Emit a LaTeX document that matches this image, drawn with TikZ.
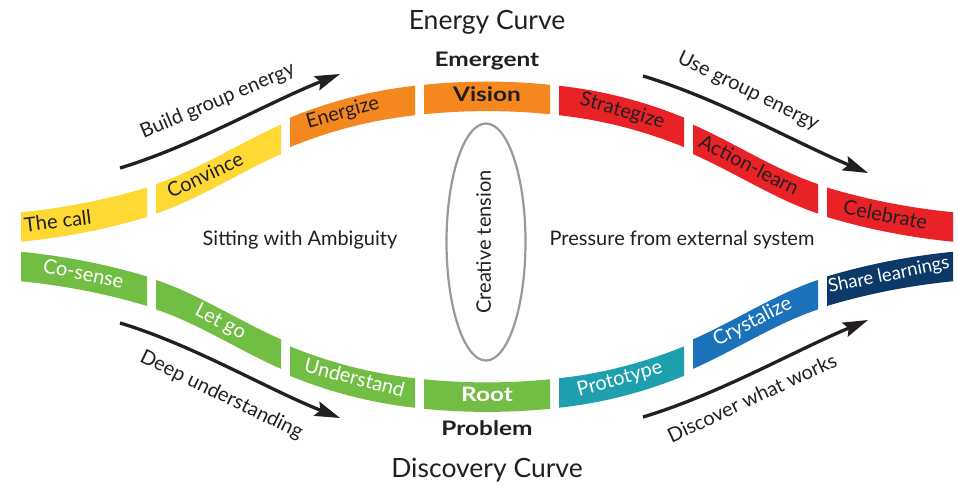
\documentclass[tikz,border=0pt]{standalone}
\usepackage{fontspec}
\usepackage{graphicx}
\setmainfont{Lato}
\usetikzlibrary{arrows.meta,shapes.geometric}
\definecolor{cyel}{HTML}{FFD933}
\definecolor{corg}{HTML}{F5871F}
\definecolor{cred}{HTML}{E92228}
\definecolor{cgrn}{HTML}{72BE44}
\definecolor{cteal}{HTML}{1D9FAD}
\definecolor{cblue}{HTML}{1B72BA}
\definecolor{cnavy}{HTML}{0D3968}
\definecolor{cdark}{HTML}{231F20}
\definecolor{cgray}{HTML}{999999}
\newcommand{\bandhw}{14.75}
\newcommand{\widebold}[1]{\scalebox{1.22}[1]{#1}}
% color, xa, ya, slope a, xb, yb, slope b  (pixel coordinates, y downward)
\newcommand{\bandseg}[7]{%
  \fill[#1] ({#2},{#3-\bandhw})
    .. controls ({#2+(#5-#2)/3},{#3-\bandhw+(#4)*(#5-#2)/3})
           and ({#5-(#5-#2)/3},{#6-\bandhw-(#7)*(#5-#2)/3}) .. ({#5},{#6-\bandhw})
    -- ({#5},{#6+\bandhw})
    .. controls ({#5-(#5-#2)/3},{#6+\bandhw-(#7)*(#5-#2)/3})
           and ({#2+(#5-#2)/3},{#3+\bandhw+(#4)*(#5-#2)/3}) .. ({#2},{#3+\bandhw})
    -- cycle;}
\tikzset{
  seglab/.style={font=\fontsize{20}{21}\selectfont, text=cdark, inner sep=0pt,
    text height=13.5pt, text depth=4pt, anchor=center},
  seglabw/.style={seglab, text=white},
  boldlab/.style={font=\fontsize{20}{21}\selectfont\bfseries, text=cdark, inner sep=0pt,
    text height=13.5pt, text depth=4pt, anchor=center},
  titlelab/.style={font=\fontsize{26.5}{28}\selectfont, text=cdark, inner sep=0pt, anchor=center},
  bigarrow/.style={line width=3.3pt, draw=cdark,
    -{Stealth[length=25pt,width=15pt,inset=4pt]}},
  tensionshape/.style={draw=cgray, line width=2.2pt, ellipse, minimum width=79pt,
    minimum height=237pt, inner sep=0pt}
}
\begin{document}
\begin{tikzpicture}[x=1pt,y=-1pt]
\useasboundingbox (0,0) rectangle (958,486);
\fill[white] (0,0) rectangle (958,486);

% ---- upper band (Energy curve)
\bandseg{cyel}{21}{227}{-0.1}{147}{202.3}{-0.3}
\bandseg{cyel}{156}{198.8}{-0.33}{281}{139.4}{-0.44}
\bandseg{corg}{290}{132.4}{-0.41}{415}{100.5}{-0.11}
\bandseg{corg}{424}{99.5}{-0.1}{550}{99.5}{0.1}
\bandseg{cred}{559}{100.5}{0.11}{684}{132.4}{0.41}
\bandseg{cred}{693}{139.4}{0.44}{818}{198.8}{0.33}
\bandseg{cred}{827}{202.3}{0.3}{953}{227}{0.1}

% ---- lower band (Discovery curve)
\bandseg{cgrn}{21}{266.5}{0.1}{147}{291.2}{0.3}
\bandseg{cgrn}{156}{294.7}{0.33}{281}{354.1}{0.44}
\bandseg{cgrn}{290}{361.1}{0.41}{415}{393}{0.11}
\bandseg{cgrn}{424}{394}{0.1}{550}{394}{-0.1}
\bandseg{cteal}{559}{393}{-0.11}{684}{361.1}{-0.41}
\bandseg{cblue}{693}{354.1}{-0.44}{818}{294.7}{-0.33}
\bandseg{cnavy}{827}{291.2}{-0.3}{953}{266.5}{-0.1}

% ---- band labels
\node[seglab, rotate=7]    (thecall)  at (58,223.5) {The call};
\node[seglab, rotate=25.5] (convince) at (206,177) {Convince};
\node[seglab, rotate=16]   (energize) at (343,114) {Energize};
\node[boldlab]             (vision)   at (487,97) {\widebold{Vision}};
\node[seglab, rotate=-16]  (strat)    at (622,112) {Strategize};
\node[seglab, rotate=-27]  (action)   at (748,167) {Action-learn};
\node[seglab, rotate=-11]  (celeb)    at (885,217) {Celebrate};

\node[seglabw, rotate=-11.5] (cosense) at (83,275.5) {Co-sense};
\node[seglabw, rotate=-27]   (letgo)   at (220,323) {Let go};
\node[seglabw, rotate=-14.5] (underst) at (354,380) {Understand};
\node[boldlab, text=white]   (root)    at (487,396.5) {\widebold{Root}};
\node[seglabw, rotate=15.5]  (proto)   at (620,380) {Prototype};
\node[seglabw, rotate=27]    (cryst)   at (753,323) {Crystalize};
\node[seglabw, rotate=11.5, font=\fontsize{18.5}{20}\selectfont] (share) at (889,276) {Share learnings};

% ---- titles
\node[titlelab] (energytitle) at (487,22) {Energy Curve};
\node[boldlab]  (emergent)    at (487,62) {\widebold{Emergent}};
\node[boldlab]  (problem)     at (487,431) {\widebold{Problem}};
\node[titlelab] (disctitle)   at (487,470) {Discovery Curve};

% ---- centre
\node[tensionshape] (tension) at (486,242) {};
\node[seglab, rotate=90] (tensionlab) at (tension.center) {Creative tension};
\node[seglab] (ambig)    at (300,241) {Sitting with Ambiguity};
\node[seglab] (pressure) at (682,241) {Pressure from external system};

% ---- arrows
\coordinate (bgeA) at (120,168);
\coordinate (bgeB) at (340,74);
\draw[bigarrow] (bgeA) .. controls (193,146) and (267,103) .. (bgeB);
\node[seglab, rotate=23] (bgelab) at (218,102) {Build group energy};

\coordinate (ugeA) at (643,76);
\coordinate (ugeB) at (868,173);
\draw[bigarrow] (ugeA) .. controls (718,98.5) and (793,141.5) .. (ugeB);
\node[seglab, rotate=-26] (ugelab) at (748,92) {Use group energy};

\coordinate (dueA) at (120,323);
\coordinate (dueB) at (340,418);
\draw[bigarrow] (dueA) .. controls (193,345) and (267,389) .. (dueB);
\node[seglab, rotate=-26] (duelab) at (221,396) {Deep understanding};

\coordinate (dwwA) at (643,417);
\coordinate (dwwB) at (868,320);
\draw[bigarrow] (dwwA) .. controls (718,394.5) and (793,351.5) .. (dwwB);
\node[seglab, rotate=25] (dwwlab) at (753,400) {Discover what works};
\end{tikzpicture}
\end{document}
